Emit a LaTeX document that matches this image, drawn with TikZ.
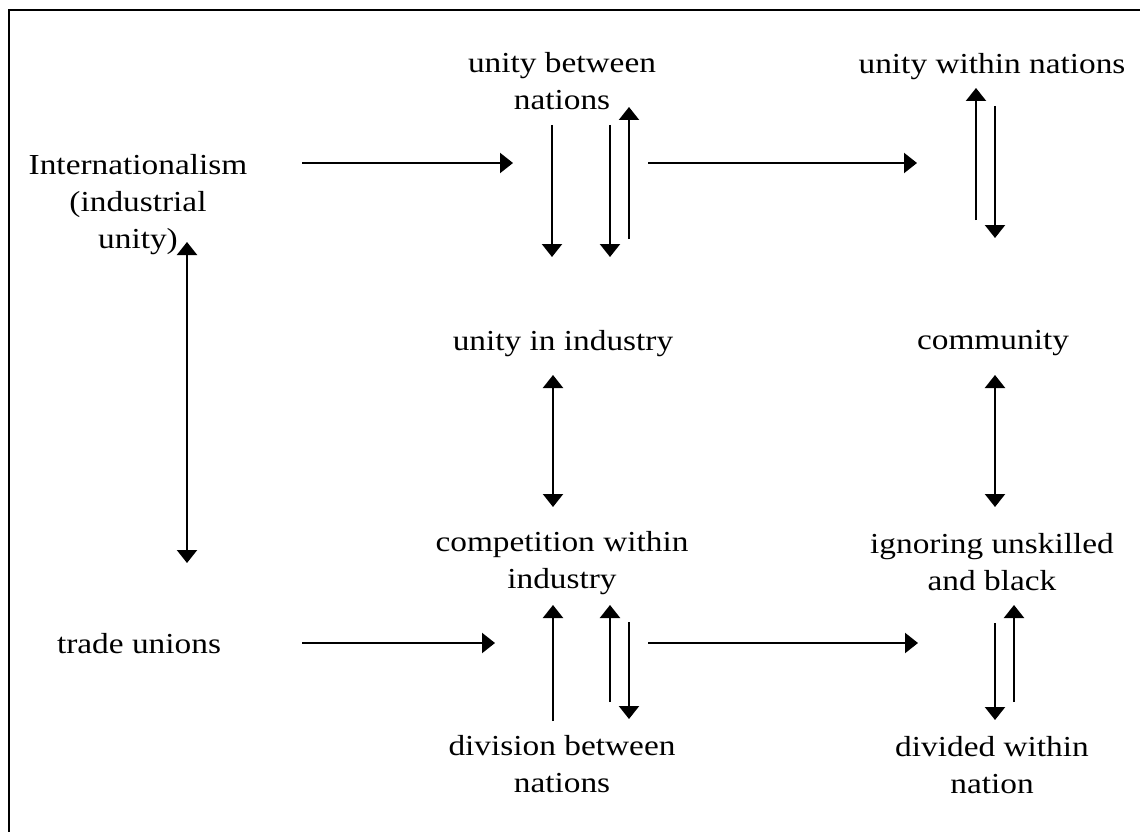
\documentclass[tikz,border=0pt]{standalone}
\usepackage{fontspec}
\setmainfont{Liberation Serif}[FakeStretch=1.15]
\usetikzlibrary{arrows.meta}
\begin{document}
\begin{tikzpicture}[x=1pt,y=-1pt,
  label/.style={inner sep=0pt,align=center,anchor=base,
    font=\fontsize{29}{37}\selectfont},
  tip/.tip={Triangle[width=20pt,length=13pt]},
  link/.style={line width=2.2pt,-tip},
  twoway/.style={line width=2.2pt,tip-tip}]
\useasboundingbox (0,0) rectangle (1140,832);
% frame (open to the right and bottom)
\draw[line width=2pt] (9,840) -- (9,10) -- (1150,10);

% labels (anchored at the baseline of the last line)
\node[label] (intl)  at (138,248) {Internationalism\\(industrial\\unity)};
\node[label] (ubn)   at (562,110) {unity between\\nations};
\node[label] (uwn)   at (992,74)  {unity within nations};
\node[label] (uii)   at (563,350) {unity in industry};
\node[label] (comm)  at (993,349) {community};
\node[label] (cwi)   at (562,588) {competition within\\industry};
\node[label] (ign)   at (992,590) {ignoring unskilled\\and black};
\node[label] (tu)    at (139,653) {trade unions};
\node[label] (dbn)   at (562,792) {division between\\nations};
\node[label] (dwn)   at (992,793) {divided within\\nation};

% arrow end points
\coordinate (h1a) at (302,163); \coordinate (h1b) at (513,163);
\coordinate (h2a) at (648,163); \coordinate (h2b) at (917,163);
\coordinate (h3a) at (302,643); \coordinate (h3b) at (495,643);
\coordinate (h4a) at (648,643); \coordinate (h4b) at (918,643);

\coordinate (lva) at (187,242); \coordinate (lvb) at (187,563);

\coordinate (u1a) at (552,125); \coordinate (u1b) at (552,257);
\coordinate (u2a) at (610,125); \coordinate (u2b) at (610,257);
\coordinate (u3a) at (629,239); \coordinate (u3b) at (629,107);

\coordinate (w1a) at (976,220); \coordinate (w1b) at (976,88);
\coordinate (w2a) at (995,106); \coordinate (w2b) at (995,238);

\coordinate (m1a) at (553,375); \coordinate (m1b) at (553,507);
\coordinate (m2a) at (995,375); \coordinate (m2b) at (995,507);

\coordinate (c1a) at (553,721); \coordinate (c1b) at (553,605);
\coordinate (c2a) at (610,702); \coordinate (c2b) at (610,605);
\coordinate (c3a) at (629,622); \coordinate (c3b) at (629,719);

\coordinate (g1a) at (995,623); \coordinate (g1b) at (995,720);
\coordinate (g2a) at (1014,702); \coordinate (g2b) at (1014,605);

% horizontal links
\draw[link] (h1a) -- (h1b);
\draw[link] (h2a) -- (h2b);
\draw[link] (h3a) -- (h3b);
\draw[link] (h4a) -- (h4b);

% two-way links
\draw[twoway] (lva) -- (lvb);
\draw[twoway] (m1a) -- (m1b);
\draw[twoway] (m2a) -- (m2b);

% vertical links
\draw[link] (u1a) -- (u1b);
\draw[link] (u2a) -- (u2b);
\draw[link] (u3a) -- (u3b);
\draw[link] (w1a) -- (w1b);
\draw[link] (w2a) -- (w2b);
\draw[link] (c1a) -- (c1b);
\draw[link] (c2a) -- (c2b);
\draw[link] (c3a) -- (c3b);
\draw[link] (g1a) -- (g1b);
\draw[link] (g2a) -- (g2b);
\end{tikzpicture}
\end{document}
